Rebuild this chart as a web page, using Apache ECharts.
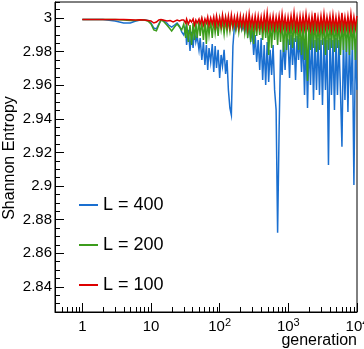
<!DOCTYPE html>
<html><head><meta charset="utf-8">
<script src="https://cdn.jsdelivr.net/npm/echarts@6/dist/echarts.min.js"></script>
<style>html,body{margin:0;padding:0;background:#fff}#c{width:364px;height:349px}</style>
</head><body><div id="c"></div>
<script>
const generations = [1,2,3,4,5,6,7,8,9,10,11,12,13,14,15,16,17,18,19,20,21,22,24,26,28,
30,32,33,35,37,39,41,43,45,47,
50,52,55,58,61,64,67,70,74,78,
82,86,90,95,100,105,110,116,122,128,
134,141,148,156,164,172,181,190,200,210,
221,232,244,256,269,283,298,313,329,346,
364,383,402,423,445,468,492,517,543,571,
600,631,664,698,734,771,811,853,897,943,
991,1042,1096,1152,1211,1274,1339,1408,1481,1557,
1637,1721,1810,1903,2001,2104,2212,2326,2446,2572,
2704,2843,2990,3143,3305,3475,3654,3842,4040,4248,
4466,4696,4938,5192,5459,5740,6036,6346,6673,7016,
7377,7757,8156,8576,9017,9481,9969];

const entropyL400 = [2.9991,2.9991,2.9982,2.9970,2.9970,2.9982,2.9988,2.9988,2.9985,2.9970,
2.9940,2.9935,2.9964,2.9988,2.9985,2.9976,2.9970,2.9958,2.9964,2.9946,
2.9940,2.9958,2.9970,2.9952,2.9917,
2.9899,2.9940,2.9839,2.9929,2.9804,2.9917,2.9821,2.9929,2.9857,2.9893,
2.9810,2.9881,2.9750,2.9857,2.9720,2.9839,2.9691,2.9821,2.9738,2.9845,
2.9679,2.9833,2.9702,2.9810,2.9643,2.9780,2.9714,2.9810,2.9667,2.9750,
2.9572,2.9464,2.9423,2.9833,2.9952,2.9929,2.9964,2.9940,2.9958,2.9929,
2.9952,2.9917,2.9958,2.9899,2.9946,2.9869,2.9929,2.9780,2.9899,2.9738,
2.9869,2.9691,2.9881,2.9631,2.9839,2.9601,2.9857,2.9619,2.9810,2.9661,
2.9839,2.9572,2.9453,2.8721,2.9334,2.9810,2.9661,2.9869,2.9691,2.9881,
2.9869,2.9643,2.9899,2.9720,2.9881,2.9631,2.9893,2.9750,2.9881,2.9679,
2.9893,2.9542,2.9881,2.9464,2.9869,2.9601,2.9899,2.9512,2.9869,2.9572,
2.9881,2.9542,2.9869,2.9482,2.9881,2.9572,2.9869,2.9125,2.9881,2.9542,
2.9869,2.9453,2.9881,2.9542,2.9869,2.9572,2.9233,2.9881,2.9512,2.9869,
2.9441,2.9869,2.9542,2.9869,2.9006,2.9869,2.9572];

const entropyL200 = [2.9991,2.9991,2.9991,2.9988,2.9985,2.9985,2.9988,2.9988,2.9982,2.9964,
2.9929,2.9923,2.9958,2.9988,2.9982,2.9970,2.9958,2.9946,2.9935,2.9923,
2.9929,2.9946,2.9964,2.9946,2.9929,
2.9964,2.9881,2.9976,2.9857,2.9958,2.9839,2.9970,2.9869,2.9976,2.9881,
2.9982,2.9893,2.9976,2.9869,2.9988,2.9845,2.9982,2.9899,2.9988,2.9881,
2.9988,2.9911,2.9982,2.9893,2.9994,2.9929,2.9988,2.9905,2.9994,2.9917,
2.9988,2.9923,2.9994,2.9940,2.9988,2.9929,2.9994,2.9917,2.9988,2.9935,
2.9994,2.9911,2.9988,2.9881,2.9994,2.9857,2.9988,2.9845,2.9994,2.9893,
2.9988,2.9899,2.9994,2.9869,2.9988,2.9881,2.9994,2.9780,2.9988,2.9821,
2.9994,2.9869,2.9988,2.9839,2.9994,2.9857,2.9988,2.9798,2.9994,2.9810,
2.9988,2.9839,2.9994,2.9821,2.9988,2.9857,2.9994,2.9810,2.9988,2.9780,
2.9994,2.9750,2.9988,2.9625,2.9994,2.9810,2.9988,2.9821,2.9994,2.9798,
2.9988,2.9810,2.9994,2.9839,2.9988,2.9780,2.9994,2.9810,2.9988,2.9821,
2.9994,2.9798,2.9988,2.9821,2.9994,2.9780,2.9988,2.9810,2.9994,2.9798,
2.9988,2.9780,2.9994,2.9810,2.9988,2.9750,2.9994];

const entropyL100 = [2.9991,2.9991,2.9991,2.9991,2.9989,2.9988,2.9989,2.9988,2.9985,2.9982,
2.9970,2.9976,2.9988,2.9991,2.9988,2.9985,2.9982,2.9988,2.9985,2.9982,
2.9976,2.9982,2.9988,2.9982,2.9988,
2.9988,2.9970,2.9994,2.9964,2.9988,2.9976,2.9994,2.9958,2.9988,2.9970,
2.9994,2.9964,3.0000,2.9958,2.9994,2.9970,3.0006,2.9958,3.0000,2.9964,
3.0006,2.9952,3.0012,2.9958,3.0000,2.9952,3.0018,2.9958,3.0006,2.9952,
3.0012,2.9946,3.0018,2.9952,3.0006,2.9952,3.0012,2.9946,3.0012,2.9952,
3.0006,2.9946,3.0012,2.9940,3.0024,2.9952,3.0006,2.9946,3.0012,2.9946,
3.0012,2.9946,3.0006,2.9940,3.0018,2.9946,3.0030,2.9940,3.0006,2.9946,
3.0012,2.9940,3.0006,2.9946,3.0012,2.9940,3.0024,2.9946,3.0006,2.9940,
3.0006,2.9940,3.0012,2.9946,3.0030,2.9940,3.0006,2.9935,3.0012,2.9940,
3.0012,2.9940,3.0024,2.9946,3.0006,2.9935,3.0012,2.9940,3.0030,2.9940,
3.0006,2.9935,3.0012,2.9940,3.0024,2.9940,3.0006,2.9946,3.0012,2.9935,
3.0018,2.9940,3.0006,2.9935,3.0012,2.9940,3.0030,2.9940,3.0006,2.9940,
3.0012,2.9935,3.0024,2.9940,3.0006,2.9940,3.0012];

const seriesNames = ['L = 400', 'L = 200', 'L = 100'];
const seriesColors = ['#1a6fd0', '#3c9c1c', '#dd0000'];
const yTickLabels = ['2.84','2.86','2.88','2.9','2.92','2.94','2.96','2.98','3'];
const xTickLabels = ['1','10','10^2','10^3','10^4'];
const xMinorTicks = [0.5,0.6,0.7,0.8,0.9,2,3,4,5,6,7,8,9,20,30,40,50,60,70,80,90,
  200,300,400,500,600,700,800,900,2000,3000,4000,5000,6000,7000,8000,9000];
const xTitle = 'generation';
const yTitle = 'Shannon Entropy';

const yMin = 2.825, yMax = 3.0095, xMin = 0.4, xMax = 10000;
const FONT = '"Liberation Sans", Arial, Helvetica, sans-serif';

const chart = echarts.init(document.getElementById('c'), null, {renderer: 'canvas'});
const allSeries = [entropyL400, entropyL200, entropyL100];

const lineSeries = allSeries.map((arr, i) => ({
  type: 'line',
  name: seriesNames[i],
  data: generations.map((g, k) => [g, arr[k]]),
  symbol: 'none',
  showSymbol: false,
  lineStyle: {width: 1.5, color: seriesColors[i], join: 'miter'},
  itemStyle: {color: seriesColors[i]},
  emphasis: {disabled: true},
  z: 2 + i
}));

const minorTickSeries = {
  type: 'custom',
  name: 'xminor',
  silent: true,
  clip: false,
  z: 10,
  data: xMinorTicks.map(v => [v, yMin]),
  renderItem: function (params, api) {
    const p = api.coord([api.value(0), yMin]);
    const x = Math.round(p[0]) + 0.5;
    return {type: 'line', shape: {x1: x, y1: p[1], x2: x, y2: p[1] - 5},
            style: {stroke: '#000', lineWidth: 1}};
  }
};

function xLabel(v) {
  const e = Math.round(Math.log10(v));
  if (e < 0 || e >= xTickLabels.length || Math.abs(v - Math.pow(10, e)) > 1e-6 * Math.pow(10, e)) return '';
  const t = xTickLabels[e];
  if (t.indexOf('^') >= 0) {
    const parts = t.split('^');
    return '{b|' + parts[0] + '}{s|' + parts[1] + '}';
  }
  return '{b|' + t + '}';
}
function yLabel(v) {
  for (const l of yTickLabels) {
    if (Math.abs(parseFloat(l) - v) < 1e-6) return l;
  }
  return '';
}

chart.setOption({
  animation: false,
  backgroundColor: '#fff',
  grid: {left: 55, right: 7, top: 2, bottom: 37, show: true, borderColor: '#000', borderWidth: 1,
         backgroundColor: 'transparent', containLabel: false, outerBoundsMode: 'none'},
  xAxis: [{
    type: 'log', logBase: 10, min: xMin, max: xMax,
    axisLine: {show: true, lineStyle: {color: '#000', width: 1}},
    axisTick: {show: true, inside: true, length: 9, lineStyle: {color: '#000'}},
    splitLine: {show: false},
    axisLabel: {
      formatter: xLabel, margin: 6, showMinLabel: false, color: '#000', hideOverlap: false,
      rich: {
        b: {fontSize: 15, fontFamily: FONT, color: '#000', lineHeight: 17},
        s: {fontSize: 11, fontFamily: FONT, color: '#000', lineHeight: 17, padding: [0, 0, 8, 0]}
      }
    }
  }],
  yAxis: [{
    type: 'value', position: 'left', min: yMin, max: yMax, splitNumber: 9,
    axisLine: {show: true, lineStyle: {color: '#000', width: 1}},
    axisTick: {show: true, inside: true, length: 9, lineStyle: {color: '#000'}},
    splitLine: {show: false},
    axisLabel: {formatter: yLabel, margin: 3, fontSize: 15, fontFamily: FONT, color: '#000', showMinLabel: false, showMaxLabel: false}
  }, {
    type: 'value', position: 'left', min: yMin, max: yMax, interval: 0.005,
    axisLine: {show: false},
    axisTick: {show: true, inside: true, length: 5, lineStyle: {color: '#000'}},
    axisLabel: {show: false},
    splitLine: {show: false}
  }],
  legend: {
    data: seriesNames, orient: 'vertical', left: 74, top: 190,
    icon: 'rect', itemWidth: 19, itemHeight: 2, itemGap: 20,
    textStyle: {fontSize: 18, fontFamily: FONT, color: '#000', lineHeight: 20},
    selectedMode: false
  },
  graphic: [{
    type: 'text', right: 7, top: 333,
    style: {text: xTitle, fontSize: 16, fontFamily: FONT, fill: '#000'}
  }, {
    type: 'text', x: 10, y: 158, rotation: Math.PI / 2,
    style: {text: yTitle, fontSize: 16, fontFamily: FONT, fill: '#000', align: 'center', verticalAlign: 'middle'}
  }],
  series: lineSeries.concat([minorTickSeries])
});
</script></body></html>
